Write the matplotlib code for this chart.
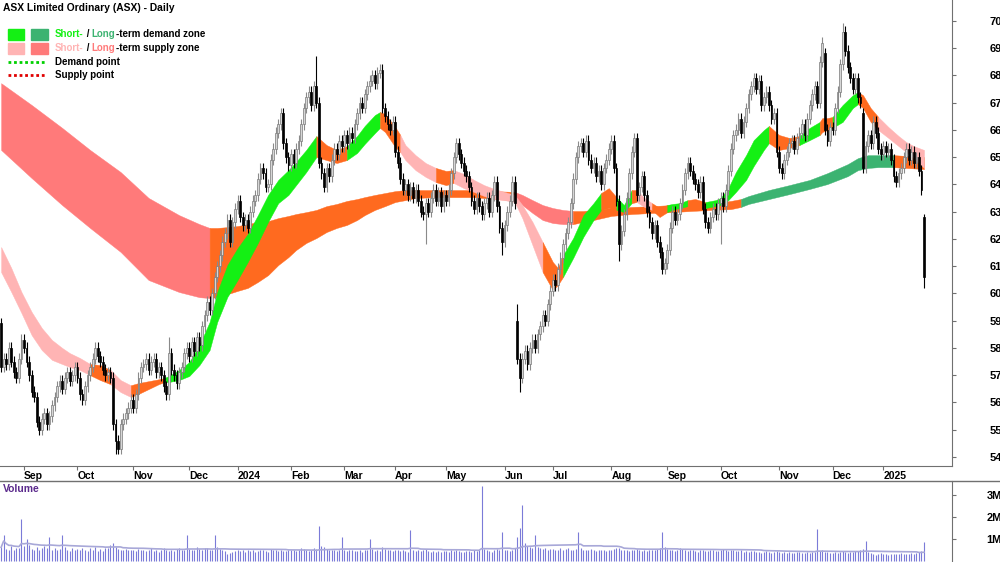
import matplotlib
matplotlib.use("Agg")
import matplotlib.pyplot as plt
import numpy as np
import pandas as pd
from matplotlib.patches import Rectangle
from matplotlib.lines import Line2D

plt.rcParams['font.family'] = ['Liberation Sans', 'DejaVu Sans']

# ASX trading days shown on the chart
holidays = ['2023-12-25', '2023-12-26', '2024-01-01', '2024-01-26', '2024-03-29', '2024-04-01',
            '2024-04-25', '2024-06-10', '2024-12-25', '2024-12-26', '2025-01-01']
dates = pd.bdate_range('2023-08-21', '2025-01-24')
dates = dates[~dates.isin(pd.to_datetime(holidays))]

close = [
    57.3, 57.6, 57.4, 58.0, 57.5, 57.1, 56.9, 57.6, 58.3,  # Aug 23
    58.0, 57.5, 57.0, 56.4, 56.2, 55.3, 55.0, 55.4, 55.6, 55.2, 55.5, 55.9, 56.2, 56.6, 56.8, 56.5,
    56.9, 57.1, 56.8, 57.0, 57.3,  # Sep
    56.9, 56.3, 56.1, 56.6, 57.0, 57.3, 57.6, 58.0, 57.7, 57.5, 57.2, 57.0, 57.1, 56.9, 55.2, 54.6,
    54.3, 55.2, 55.4, 55.6, 55.8, 56.1,  # Oct
    55.8, 56.3, 56.9, 57.3, 57.4, 57.6, 57.2, 57.5, 57.6, 57.1, 57.3, 57.0, 56.6, 56.3, 57.8, 57.2,
    57.0, 56.7, 57.1, 57.3, 57.8, 58.0,  # Nov
    57.7, 58.2, 57.9, 58.4, 58.1, 58.8, 59.2, 59.7, 59.4, 60.0, 60.6, 61.0, 61.4, 61.9, 62.2, 62.7,
    61.9, 62.6, 63.1,  # Dec
    63.4, 62.8, 62.5, 62.7, 62.4, 63.0, 63.4, 63.6, 64.2, 64.6, 64.4, 63.9, 64.0, 64.9, 65.3, 65.9,
    66.2, 66.6, 65.5, 65.0, 64.7,  # Jan 24
    65.1, 64.8, 65.3, 65.6, 66.2, 66.8, 67.2, 67.4, 66.9, 67.6, 67.0, 64.8, 64.4, 63.9, 64.6, 64.3,
    64.9, 65.3, 65.1, 65.6, 65.4,  # Feb
    65.8, 65.5, 65.9, 65.7, 66.2, 66.6, 67.0, 66.8, 67.3, 67.6, 67.8, 68.0, 67.7, 68.1, 68.2, 66.8,
    66.5, 66.2, 66.0, 66.3,  # Mar
    65.2, 64.8, 64.2, 63.8, 64.0, 63.6, 63.9, 63.5, 63.8, 63.4, 63.0, 62.9, 63.3, 63.0, 63.5, 63.8,
    63.4, 63.7, 63.2, 63.6,  # Apr
    63.4, 63.8, 64.4, 65.0, 65.5, 65.1, 64.8, 64.5, 64.3, 63.9, 63.4, 63.1, 63.5, 63.2, 62.9, 63.3,
    63.5, 63.0, 63.6, 64.1, 63.2, 62.4, 61.9,  # May
    62.5, 63.0, 63.4, 64.1, 63.3, 57.6, 56.9, 57.6, 57.9, 57.4, 58.0, 58.3, 58.0, 58.5, 58.8, 59.2,
    59.0, 59.6, 60.1,  # Jun
    60.5, 60.3, 60.9, 61.3, 61.8, 62.2, 62.6, 63.3, 64.2, 65.0, 65.4, 65.5, 65.2, 65.6, 64.9, 64.6,
    64.8, 64.3, 64.5, 64.0, 64.6, 64.9, 65.3,  # Jul
    65.6, 64.6, 63.4, 61.8, 62.3, 62.9, 63.5, 64.4, 65.2, 65.7, 63.6, 63.9, 64.3, 63.6, 63.0, 62.6,
    62.2, 62.5, 61.9, 61.5, 60.9, 61.1,  # Aug
    61.6, 62.4, 63.0, 62.7, 62.9, 63.3, 63.8, 64.4, 64.8, 64.5, 64.2, 64.0, 63.7, 64.1, 63.1, 62.6,
    62.4, 62.8, 63.1, 62.9, 63.3,  # Sep
    63.5, 63.2, 63.8, 64.5, 65.3, 65.8, 66.0, 66.4, 65.9, 66.3, 66.8, 67.3, 67.6, 67.9, 67.5, 67.8,
    66.9, 67.2, 67.4, 66.9, 66.4, 66.6, 65.2,  # Oct
    64.6, 64.4, 64.9, 65.2, 65.5, 65.6, 65.3, 65.7, 65.9, 66.2, 65.8, 66.4, 66.9, 67.3, 67.6, 67.0,
    68.5, 69.2, 66.0, 65.6, 66.1,  # Nov
    66.0, 66.8, 67.4, 68.4, 69.6, 68.9, 68.3, 67.9, 67.5, 67.9, 67.2, 67.0, 64.6, 65.4, 65.8, 65.5,
    66.3, 65.9, 65.3, 65.1,  # Dec
    65.4, 65.2, 65.3, 64.9, 64.3, 64.1, 64.4, 64.6, 65.0, 65.3, 64.9, 65.2, 64.8, 65.0, 64.5, 63.8,
    60.6,  # Jan 25
]
open_fix = {'2023-08-21': 58.9, '2024-06-11': 59.0, '2024-11-27': 68.8, '2024-12-18': 66.6,
            '2025-01-24': 62.8}
high_fix = {'2024-02-15': 68.7, '2024-03-20': 68.3, '2024-11-26': 69.4, '2024-12-06': 69.9,
            '2023-11-21': 58.4, '2024-06-11': 59.6, '2025-01-24': 62.9}
low_fix = {'2023-10-23': 54.1, '2024-06-12': 56.4, '2024-04-18': 61.8, '2024-10-01': 61.8,
           '2024-08-06': 61.2, '2024-05-31': 61.4, '2025-01-24': 60.2}

volume = [
    0.62, 1.2, 0.55, 0.48, 0.7, 0.52, 0.6, 0.58, 1.9,
    0.66, 1.0, 0.72, 0.55, 0.48, 0.62, 0.5, 0.58, 0.68, 0.57, 1.1, 0.52, 0.6, 0.49, 0.55, 1.2,
    0.64, 0.5, 0.45, 0.58, 0.52,
    0.55, 0.48, 0.6, 0.52, 0.45, 0.58, 0.5, 0.62, 0.47, 0.53, 0.44, 0.58, 0.6, 0.72, 0.8, 0.65,
    0.55, 0.5, 0.48, 0.56, 0.52, 0.49,
    0.5, 0.46, 0.55, 0.52, 0.48, 0.44, 0.5, 0.57, 0.45, 0.5, 0.42, 0.48, 0.6, 0.52, 0.47, 0.5,
    0.45, 0.55, 0.6, 0.48, 0.52, 1.2,
    0.55, 0.5, 0.48, 0.62, 0.55, 0.5, 0.58, 0.6, 0.52, 0.48, 1.2, 0.65, 0.55, 0.5, 0.45, 0.3,
    0.38, 0.42, 0.45,
    0.5, 0.45, 0.48, 0.42, 0.5, 0.46, 0.52, 0.4, 0.44, 0.48, 0.5, 0.45, 0.42, 0.55, 0.48, 0.5,
    0.46, 0.52, 0.44, 0.47, 0.5,
    0.48, 0.52, 0.45, 0.5, 0.58, 0.55, 0.5, 0.46, 0.52, 0.6, 0.55, 1.6, 0.7, 0.62, 0.55, 0.5,
    0.48, 0.52, 0.45, 0.5, 1.1,
    0.5, 0.45, 0.48, 0.52, 0.44, 0.46, 0.5, 0.42, 0.48, 0.5, 1.0, 0.55, 0.47, 0.5, 0.45, 0.62,
    0.55, 0.48, 0.5, 0.45,
    0.48, 0.5, 0.45, 0.52, 0.46, 0.42, 1.4, 0.5, 0.45, 0.48, 0.44, 0.5, 0.55, 0.46, 0.42, 0.45,
    0.4, 0.44, 0.42, 0.46,
    0.45, 0.42, 0.48, 0.44, 0.5, 0.46, 0.42, 0.4, 0.44, 0.45, 0.42, 0.48, 0.44, 0.5, 3.4, 0.55,
    0.48, 0.45, 0.42, 0.5, 0.55, 0.48, 1.3,
    0.5, 0.48, 0.45, 0.52, 0.6, 1.1, 1.5, 2.55, 0.8, 0.7, 0.65, 0.6, 1.2, 0.62, 0.58, 0.55,
    0.6, 0.52, 0.55,
    0.55, 0.5, 0.52, 0.58, 0.5, 0.55, 0.6, 0.52, 0.48, 0.55, 1.3, 0.6, 0.52, 0.5, 0.48, 0.55,
    0.5, 0.46, 0.52, 0.5, 0.48, 0.45, 0.5,
    0.5, 0.55, 0.6, 0.58, 0.52, 0.5, 0.48, 0.45, 0.5, 0.52, 0.55, 0.48, 0.45, 0.5, 0.47, 0.52,
    0.5, 0.48, 0.55, 0.6, 1.3, 0.62,
    0.55, 0.5, 0.48, 0.45, 0.52, 0.6, 0.55, 0.5, 0.46, 0.48, 0.5, 0.45, 0.42, 0.48, 0.5, 0.46,
    0.44, 0.5, 0.48, 0.45, 0.47,
    0.5, 0.55, 0.48, 0.45, 0.5, 0.52, 0.46, 0.44, 0.48, 0.42, 0.45, 0.4, 0.44, 0.46, 0.42, 0.4,
    0.38, 0.42, 0.45, 0.4, 0.38, 0.42, 0.44,
    0.4, 0.38, 0.42, 0.36, 0.4, 0.38, 0.35, 0.4, 0.42, 0.38, 0.36, 0.4, 0.38, 0.42, 0.4, 1.45,
    0.45, 0.5, 0.42, 0.4, 0.38,
    0.38, 0.4, 0.36, 0.42, 0.45, 0.4, 0.38, 0.42, 0.4, 0.44, 0.45, 0.5, 0.55, 0.9, 0.42, 0.38,
    0.3, 0.28, 0.32, 0.35,
    0.3, 0.32, 0.28, 0.3, 0.34, 0.32, 0.3, 0.35, 0.32, 0.3, 0.33, 0.36, 0.34, 0.38, 0.4, 0.45,
    0.85,
]

# zones: trading-day index, upper edge, lower edge, colour of the stretch that starts there
short_idx = [0, 4, 8, 12, 16, 20, 24, 27, 31, 35, 39, 43, 47, 51, 54, 58, 62, 64, 66, 70, 74, 78,
             82, 85, 89, 93, 97, 101, 105, 109, 113, 116, 120, 124, 128, 132, 136, 140, 143, 147,
             149, 151, 155, 157, 159, 163, 167, 171, 175, 178, 182, 186, 190, 194, 198, 202, 205,
             209, 213, 217, 219, 221, 225, 229, 233, 236, 239, 242, 245, 248, 250, 253, 256, 259,
             262, 264, 267, 270, 273, 277, 281, 283, 286, 289, 293, 296, 300, 302, 306, 310, 314,
             318, 322, 323, 325, 327, 331, 335, 337, 339, 342, 345, 349, 353, 356, 359, 363]
short_top = [61.70, 60.93, 60.05, 59.32, 58.73, 58.29, 58.00, 57.81, 57.63, 57.41, 57.37, 57.19,
             56.82, 56.63, 56.71, 56.78, 56.85, 56.89, 56.97, 57.19, 57.48, 58.11, 58.95, 60.05,
             61.04, 61.66, 62.18, 62.87, 63.61, 64.16, 64.52, 64.82, 65.26, 65.77, 65.44, 65.26,
             65.40, 65.77, 66.14, 66.54, 66.65, 66.58, 66.10, 65.81, 65.44, 65.07, 64.78, 64.60,
             64.49, 64.52, 64.38, 64.16, 63.97, 63.83, 63.72, 63.61, 63.24, 62.62, 61.88, 61.15,
             60.93, 61.40, 62.03, 62.87, 63.31, 63.68, 63.86, 63.53, 63.24, 63.79, 63.79, 63.50,
             63.31, 63.13, 63.24, 63.28, 63.31, 63.42, 63.46, 63.35, 63.42, 63.50, 63.86, 64.45,
             65.07, 65.62, 65.99, 66.14, 65.81, 65.70, 65.77, 66.07, 66.29, 66.43, 66.43, 66.47,
             66.91, 67.27, 67.38, 67.27, 66.80, 66.47, 66.10, 65.77, 65.55, 65.40, 65.26]
short_bot = [60.78, 60.05, 59.28, 58.47, 57.92, 57.56, 57.41, 57.30, 57.19, 57.00, 56.82, 56.67,
             56.38, 56.20, 56.31, 56.49, 56.67, 56.74, 56.75, 56.82, 56.97, 57.37, 57.92, 58.95,
             59.87, 60.49, 61.15, 61.85, 62.62, 63.31, 63.61, 63.97, 64.45, 65.00, 64.89, 64.78,
             64.89, 65.15, 65.48, 65.88, 66.07, 65.92, 65.37, 65.18, 64.89, 64.52, 64.27, 64.08,
             63.97, 64.05, 63.86, 63.72, 63.57, 63.46, 63.42, 63.35, 62.76, 61.77, 60.78, 60.12,
             60.31, 60.60, 61.30, 62.07, 62.69, 63.06, 63.13, 63.06, 62.98, 63.31, 63.35, 63.17,
             63.06, 62.80, 62.98, 63.06, 63.13, 63.20, 63.24, 63.13, 63.20, 63.24, 63.42, 63.72,
             64.16, 64.67, 65.26, 65.51, 65.26, 65.33, 65.44, 65.62, 65.81, 65.92, 65.99, 66.07,
             66.29, 66.80, 66.94, 66.80, 66.29, 65.99, 65.70, 65.40, 65.18, 64.96, 64.60]
short_col = ['ss'] * 9 + ['n', 'n', 'ss', 'ss', 'n', 'n', 'n', 'n'] + ['sd'] * 16 + ['n', 'n', 'n'] \
    + ['sd'] * 4 + ['n', 'n', 'n'] + ['ss'] * 4 + ['n', 'n'] + ['ss'] * 9 + ['n', 'n', 'n'] \
    + ['sd'] * 4 + ['n', 'n', 'sd', 'sd', 'n', 'ss', 'ss', 'n', 'n', 'sd', 'sd', 'sd', 'n', 'n'] \
    + ['sd'] * 8 + ['n', 'n', 'n', 'sd', 'sd', 'n', 'n', 'n'] + ['sd'] * 3 + ['n', 'n', 'n'] \
    + ['ss'] * 6

long_idx = [0, 12, 24, 35, 47, 58, 70, 78, 82, 85, 89, 93, 97, 101, 105, 109, 113, 116, 120, 124,
            128, 132, 136, 140, 143, 147, 151, 155, 159, 163, 171, 178, 186, 194, 202, 205, 209,
            213, 217, 221, 225, 229, 233, 240, 248, 256, 264, 271, 279, 287, 291, 294, 302, 310,
            318, 325, 333, 337, 341, 345, 349, 351, 356, 363]
long_top = [67.71, 66.91, 66.07, 65.26, 64.45, 63.50, 62.87, 62.54, 62.40, 62.40, 62.43, 62.47,
            62.54, 62.62, 62.65, 62.76, 62.84, 62.91, 62.98, 63.06, 63.20, 63.28, 63.39, 63.46,
            63.53, 63.61, 63.68, 63.75, 63.79, 63.79, 63.79, 63.79, 63.79, 63.75, 63.72, 63.61,
            63.42, 63.24, 63.13, 63.06, 63.02, 63.02, 63.06, 63.13, 63.17, 63.20, 63.24, 63.28,
            63.31, 63.39, 63.46, 63.57, 63.79, 63.97, 64.16, 64.41, 64.74, 64.96, 65.07, 65.07,
            65.07, 65.07, 65.04, 65.00]
long_bot = [65.26, 64.23, 63.24, 62.40, 61.52, 60.49, 60.05, 59.86, 59.83, 59.86, 59.97, 60.09,
            60.20, 60.42, 60.67, 61.04, 61.33, 61.59, 61.85, 62.03, 62.25, 62.40, 62.51, 62.69,
            62.87, 63.06, 63.20, 63.35, 63.42, 63.50, 63.53, 63.53, 63.53, 63.46, 63.42, 63.24,
            62.95, 62.69, 62.58, 62.54, 62.54, 62.62, 62.69, 62.84, 62.91, 62.95, 62.98, 63.02,
            63.06, 63.09, 63.17, 63.28, 63.46, 63.64, 63.83, 64.01, 64.30, 64.52, 64.60, 64.63,
            64.63, 64.63, 64.60, 64.56]
long_col = ['ls'] * 8 + ['n'] * 26 + ['ls'] * 6 + ['n'] * 10 + ['ld'] * 11 + ['n'] * 3

zone_colors = {'sd': '#14f014', 'ss': '#ffb4b4', 'ld': '#3cb371', 'ls': '#ff7a7a', 'n': '#ff6a1f'}

months = ['Sep', 'Oct', 'Nov', 'Dec', '2024', 'Feb', 'Mar', 'Apr', 'May', 'Jun', 'Jul', 'Aug',
          'Sep', 'Oct', 'Nov', 'Dec', '2025']


def draw_zone(ax, idx, top, bot, cols):
    idx, top, bot = np.array(idx), np.array(top), np.array(bot)
    m = len(idx) - 1
    k = 0
    while k < m:
        e = k
        while e + 1 < m and cols[e + 1] == cols[k]:
            e += 1
        sl = slice(k, e + 2)
        c = zone_colors[cols[k]]
        ax.fill_between(idx[sl], bot[sl], top[sl], facecolor=c, edgecolor=c, lw=0.3, zorder=1)
        k = e + 1


n = len(dates)
x = np.arange(n)
c = np.array(close)
o = np.r_[c[0], c[:-1]]
for d, v in open_fix.items():
    o[dates.get_loc(pd.Timestamp(d))] = v
hi = np.maximum(o, c) + 0.2
lo = np.minimum(o, c) - 0.2
for d, v in high_fix.items():
    hi[dates.get_loc(pd.Timestamp(d))] = v
for d, v in low_fix.items():
    lo[dates.get_loc(pd.Timestamp(d))] = v

fig = plt.figure(figsize=(10, 5.62), dpi=100)
H = 562.0
ax = fig.add_axes([0, 1 - 465.7 / H, 0.952, 465.7 / H])
axv = fig.add_axes([0, 0, 0.952, 1 - 481 / H])

draw_zone(ax, long_idx, long_top, long_bot, long_col)
draw_zone(ax, short_idx, short_top, short_bot, short_col)

up = c >= o
ax.vlines(x[up], lo[up], hi[up], color='#8a8a8a', lw=0.8, zorder=2)
ax.vlines(x[~up], lo[~up], hi[~up], color='black', lw=0.8, zorder=2)
ax.bar(x[up], np.maximum(c - o, 0.04)[up], bottom=o[up], width=0.7, color='#d6d6d6',
       edgecolor='#7a7a7a', lw=0.5, zorder=3)
ax.bar(x[~up], (o - c)[~up], bottom=c[~up], width=0.7, color='black', edgecolor='black',
       lw=0.5, zorder=3)

x0, x1 = -0.44, 374.0
ax.set_xlim(x0, x1)
ax.set_ylim(53.68, 70.76)
month_start = [i for i in range(1, n) if dates[i].month != dates[i - 1].month]
ax.set_xticks(month_start)
ax.set_xticklabels(months, fontsize=7.5, fontweight='bold', ha='left')
ax.tick_params(axis='x', direction='out', length=3, pad=1, color='#707070')
ax.yaxis.tick_right()
ax.set_yticks(range(54, 71))
ax.set_yticklabels([str(v) for v in range(54, 71)], fontsize=8, fontweight='bold', ha='right')
ax.tick_params(axis='y', direction='out', length=3, pad=33, color='#707070')
for s in ['top', 'left']:
    ax.spines[s].set_visible(False)
for s in ['bottom', 'right']:
    ax.spines[s].set_color('#707070')

# volume panel
v = pd.Series(volume)
axv.vlines(x, 0, v, color='#7b7bd8', lw=0.8)
axv.plot(x, v.rolling(40, min_periods=1).mean(), color='#a8a8d8', lw=1.2)
axv.set_xlim(x0, x1)
axv.set_ylim(-0.045, 3.636)
axv.set_xticks([])
axv.yaxis.tick_right()
axv.set_yticks([1, 2, 3])
axv.set_yticklabels(['1M', '2M', '3M'], fontsize=8, fontweight='bold', ha='right')
axv.tick_params(axis='y', direction='out', length=3, pad=33, color='#707070')
for s in ['top', 'left', 'bottom']:
    axv.spines[s].set_visible(False)
axv.spines['right'].set_color('#707070')
axv.text(0.003, 0.9, 'Volume', transform=axv.transAxes, fontsize=7.5, fontweight='bold',
         color='#5b2a8c', va='center')
fig.add_artist(Line2D([0, 1], [1 - 481 / H] * 2, transform=fig.transFigure, color='#707070', lw=1))


# title and legend, placed in figure pixels
def fx(px):
    return px / 1000.0


def fy(py):
    return 1 - py / H


fig.text(fx(3), fy(8), 'ASX Limited Ordinary (ASX) - Daily', fontsize=7.4, fontweight='bold',
         va='center')

rows = [(34, [('Short-', zone_colors['sd']), (' / ', 'black'), ('Long', zone_colors['ld']),
              ('-term demand zone', 'black')]),
        (48, [('Short-', zone_colors['ss']), (' / ', 'black'), ('Long', zone_colors['ls']),
              ('-term supply zone', 'black')])]
for py, parts in rows:
    prev = fig.text(fx(55), fy(py), parts[0][0], color=parts[0][1], fontsize=7,
                    fontweight='bold', va='center')
    for txt, col in parts[1:]:
        prev = ax.annotate(txt, xy=(1, 0), xycoords=prev, va='bottom', color=col, fontsize=7,
                           fontweight='bold', annotation_clip=False)

fig.add_artist(Rectangle((fx(8), fy(40)), fx(16), 11 / H, transform=fig.transFigure,
                         color=zone_colors['sd']))
fig.add_artist(Rectangle((fx(31), fy(40)), fx(17), 11 / H, transform=fig.transFigure,
                         color=zone_colors['ld']))
fig.add_artist(Rectangle((fx(8), fy(54)), fx(16), 11 / H, transform=fig.transFigure,
                         color=zone_colors['ss']))
fig.add_artist(Rectangle((fx(31), fy(54)), fx(17), 11 / H, transform=fig.transFigure,
                         color=zone_colors['ls']))
fig.add_artist(Line2D([fx(8), fx(45)], [fy(62)] * 2, transform=fig.transFigure, color='#00d000',
                      lw=2, ls=(0, (1, 1))))
fig.add_artist(Line2D([fx(8), fx(45)], [fy(75)] * 2, transform=fig.transFigure, color='#e00000',
                      lw=2, ls=(0, (1, 1))))
fig.text(fx(55), fy(62), 'Demand point', fontsize=7, fontweight='bold', va='center')
fig.text(fx(55), fy(75), 'Supply point', fontsize=7, fontweight='bold', va='center')

fig.savefig('out.png', dpi=100)
